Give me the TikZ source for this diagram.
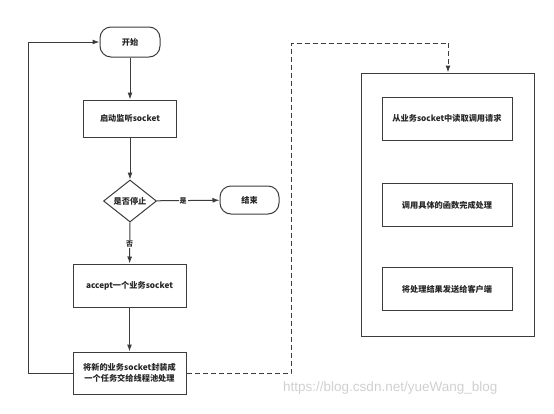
\documentclass[tikz,border=0pt]{standalone}
\usepackage{fontspec}
\setmainfont{Noto Sans CJK SC}
\newfontfamily\wmfont{Liberation Sans}
\usetikzlibrary{arrows.meta,shapes.geometric}
\definecolor{linec}{HTML}{3C3C3C}
\definecolor{wmc}{HTML}{D0D0D0}
\tikzset{
  x=1pt,y=-1pt,
  base/.style={draw=linec,line width=1pt,text=black!85,font=\fontsize{8.2}{10.5}\selectfont\bfseries,align=center,inner sep=0pt},
  term/.style={base,rounded corners=11pt,minimum width=60pt,minimum height=30pt},
  proc/.style={base,minimum width=93pt,minimum height=37pt},
  decision/.style={base,diamond,aspect=1.26,minimum width=53pt,minimum height=42pt,inner sep=0pt},
  arr/.style={draw=linec,line width=1pt,-{Latex[length=7pt,width=5pt]}},
  dashline/.style={draw=linec,line width=1pt,dash pattern=on 5pt off 3pt},
  lbl/.style={font=\fontsize{7}{8}\selectfont\bfseries,fill=white,inner sep=1pt,text=black!85}
}
\begin{document}
\begin{tikzpicture}
\useasboundingbox (0,0) rectangle (554,413);
\node[term] (start) at (130,42) {开始};
\node[proc] (listen) at (130,118.5) {启动监听socket};
\node[decision] (stop) at (130,201) {是否停止};
\node[term,minimum width=59pt,minimum height=28pt] (end) at (249.5,200) {结束};
\node[proc,minimum width=113pt,minimum height=43pt] (accept) at (129.5,285.5) {accept一个业务socket};
\node[proc,minimum width=113pt,minimum height=42pt] (wrap) at (129.5,373) {将新的业务socket封装成\\一个任务交给线程池处理};
\node[base,minimum width=173pt,minimum height=263pt] (pool) at (447.5,204.5) {};
\node[proc,minimum width=130pt,minimum height=43pt] (read) at (447,118.5) {从业务socket中读取调用请求};
\node[proc,minimum width=130pt,minimum height=43pt] (call) at (447,205) {调用具体的函数完成处理};
\node[proc,minimum width=130pt,minimum height=43pt] (send) at (447,289) {将处理结果发送给客户端};
\coordinate (lb) at (28,373);
\coordinate (lt) at (28,42);
\coordinate (d1) at (291,373);
\coordinate (d2) at (291,43);
\coordinate (d3) at (448,43);
\draw[arr] (start) -- (listen);
\draw[arr] (listen) -- (stop);
\draw[arr] (stop) -- node[lbl,pos=0.42]{是} (end);
\draw[arr] (stop) -- node[lbl,pos=0.52]{否} (accept);
\draw[arr] (accept) -- (wrap);
\draw[arr] (wrap.west) -- (lb) -- (lt) -- (start.west);
\draw[dashline] (wrap.east) -- (d1) -- (d2) -- (d3);
\draw[dashline,-{Latex[length=7pt,width=5pt]}] (d3) -- (pool.north -| d3);
\node[anchor=west,text=wmc,font=\wmfont\fontsize{13.5}{15}\selectfont,inner sep=0pt] (wm) at (283,388) {https://blog.csdn.net/yueWang\_blog};
\end{tikzpicture}
\end{document}
